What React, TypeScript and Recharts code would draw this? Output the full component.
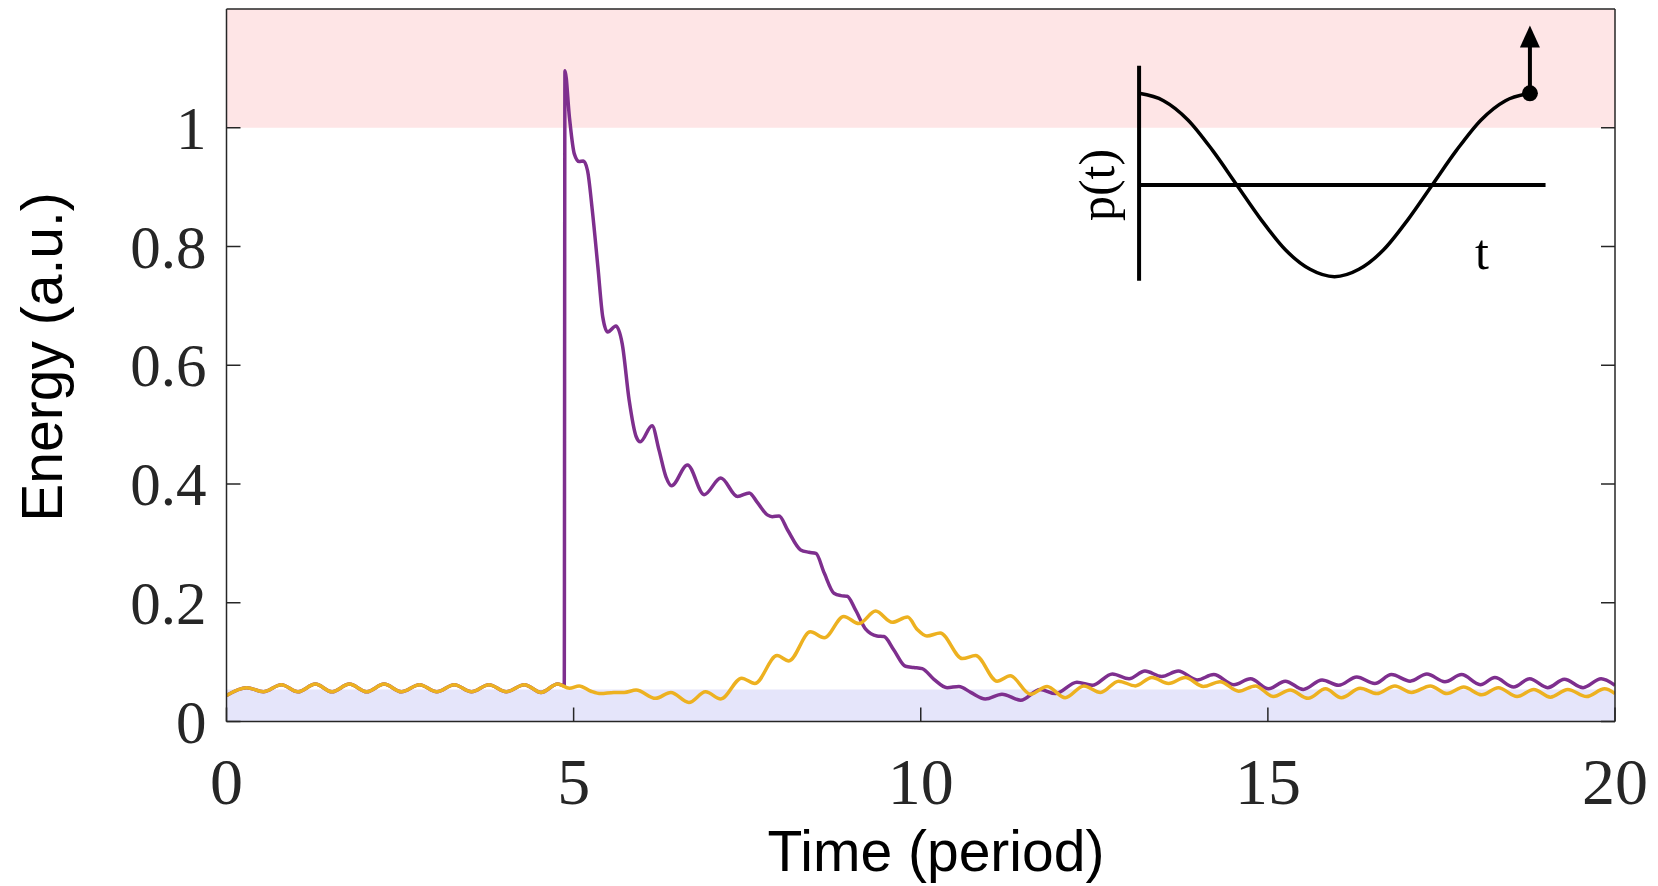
import { LineChart, Line, XAxis, YAxis, ReferenceArea, ReferenceLine, ReferenceDot } from "recharts";

// shared start: both series sit on the same ripple until the kick at t ~ 4.87
const baseT = [0, 0.29, 0.53, 0.79, 1.03, 1.28, 1.52, 1.77, 2.02, 2.27, 2.52, 2.78, 3.03, 3.28, 3.53, 3.78, 4.03, 4.29, 4.53, 4.77];
const baseE = [0.044, 0.057, 0.05, 0.062, 0.05, 0.063, 0.05, 0.063, 0.05, 0.063, 0.05, 0.062, 0.05, 0.062, 0.05, 0.062, 0.05, 0.062, 0.049, 0.063];

const purpleT = [4.865, 4.875, 4.94, 5.01, 5.08, 5.14, 5.2, 5.27, 5.35, 5.42, 5.49, 5.61, 5.7, 5.8, 5.9, 5.96, 6.13, 6.23, 6.33, 6.41, 6.64, 6.88, 7.12, 7.36, 7.53, 7.64, 7.79, 7.86, 7.96, 8.08, 8.27, 8.39, 8.49, 8.61, 8.75, 8.85, 8.94, 9.06, 9.21, 9.37, 9.47, 9.61, 9.78, 9.9, 10.02, 10.19, 10.38, 10.55, 10.72, 10.93, 11.17, 11.44, 11.72, 11.94, 12.25, 12.47, 12.76, 13.0, 13.23, 13.47, 13.71, 13.98, 14.22, 14.51, 14.75, 15.01, 15.25, 15.51, 15.78, 16.02, 16.28, 16.54, 16.78, 17.05, 17.29, 17.55, 17.79, 18.06, 18.27, 18.54, 18.77, 19.03, 19.27, 19.54, 19.8, 20];
const purpleE = [0.06, 1.096, 1.017, 0.956, 0.943, 0.944, 0.928, 0.86, 0.765, 0.681, 0.656, 0.666, 0.636, 0.541, 0.48, 0.471, 0.498, 0.457, 0.412, 0.397, 0.432, 0.382, 0.41, 0.379, 0.385, 0.37, 0.348, 0.345, 0.346, 0.323, 0.289, 0.285, 0.283, 0.25, 0.216, 0.212, 0.211, 0.188, 0.155, 0.144, 0.143, 0.121, 0.093, 0.091, 0.089, 0.071, 0.057, 0.059, 0.049, 0.038, 0.046, 0.036, 0.054, 0.047, 0.066, 0.061, 0.08, 0.072, 0.085, 0.076, 0.085, 0.07, 0.079, 0.062, 0.072, 0.055, 0.068, 0.054, 0.07, 0.061, 0.075, 0.064, 0.079, 0.068, 0.08, 0.067, 0.079, 0.062, 0.074, 0.058, 0.072, 0.057, 0.071, 0.057, 0.072, 0.061];

const orangeT = [4.94, 5.08, 5.25, 5.39, 5.58, 5.73, 5.9, 6.18, 6.4, 6.66, 6.9, 7.12, 7.42, 7.61, 7.93, 8.1, 8.41, 8.61, 8.89, 9.11, 9.35, 9.59, 9.81, 9.95, 10.09, 10.28, 10.6, 10.79, 11.1, 11.29, 11.58, 11.82, 12.08, 12.35, 12.59, 12.85, 13.09, 13.33, 13.57, 13.81, 14.07, 14.31, 14.58, 14.82, 15.08, 15.32, 15.58, 15.83, 16.06, 16.33, 16.57, 16.83, 17.07, 17.34, 17.58, 17.82, 18.08, 18.32, 18.59, 18.83, 19.07, 19.32, 19.59, 19.85, 20];
const orangeE = [0.056, 0.06, 0.051, 0.047, 0.049, 0.049, 0.053, 0.039, 0.049, 0.032, 0.05, 0.038, 0.073, 0.064, 0.111, 0.102, 0.151, 0.141, 0.177, 0.165, 0.186, 0.167, 0.176, 0.155, 0.144, 0.149, 0.106, 0.111, 0.068, 0.077, 0.046, 0.059, 0.04, 0.06, 0.049, 0.068, 0.06, 0.074, 0.064, 0.074, 0.059, 0.067, 0.051, 0.06, 0.042, 0.053, 0.039, 0.055, 0.04, 0.056, 0.047, 0.06, 0.049, 0.06, 0.047, 0.058, 0.045, 0.057, 0.042, 0.054, 0.041, 0.054, 0.042, 0.055, 0.047];

const xTicks = [0, 5, 10, 15, 20];
const yTicks = [0, 0.2, 0.4, 0.6, 0.8, 1];
const escapeBand = [1, 1.2];
const lowBand = [0, 0.054];

// inset sketch: one period of the drive p(t)
const insetPhase = [0, 0.0625, 0.125, 0.1875, 0.25, 0.3125, 0.375, 0.4375, 0.5, 0.5625, 0.625, 0.6875, 0.75, 0.8125, 0.875, 0.9375, 1];
const insetSignal = [1, 0.92, 0.71, 0.38, 0, -0.38, -0.71, -0.92, -1, -0.92, -0.71, -0.38, 0, 0.38, 0.71, 0.92, 1];
const insetVAxis = [-1.044, 1.3];
const insetHAxisEnd = 1.04;
const insetArrowTip = 1.74;

const purpleData = [...baseT, ...purpleT].map((t, i) => ({ t, e: [...baseE, ...purpleE][i] }));
const orangeData = [...baseT, ...orangeT].map((t, i) => ({ t, e: [...baseE, ...orangeE][i] }));
const insetData = insetPhase.map((p, i) => ({ p, s: insetSignal[i] }));

const FRAME = "#262626";
const SERIF = "'Liberation Serif', 'Times New Roman', serif";
const SANS = "'Liberation Sans', Arial, sans-serif";

const XTick = ({ x, y, payload }: any) => (
  <text x={x} y={y + 82} textAnchor="middle" fontFamily={SERIF} fontSize={66} fill={FRAME}>
    {payload.value}
  </text>
);

const YTick = ({ x, y, payload }: any) => (
  <text x={x - 20} y={y + 21} textAnchor="end" fontFamily={SERIF} fontSize={61} fill={FRAME}>
    {payload.value}
  </text>
);

const NoTick = () => <g />;

const Arrow = (props: any) => {
  const { x1, y1, x2, y2 } = props;
  const head = 22;
  const half = 10;
  return (
    <g>
      <line x1={x1} y1={y1} x2={x2} y2={y2 + head - 1} stroke="#000" strokeWidth={4} />
      <polygon points={`${x2},${y2} ${x2 - half},${y2 + head} ${x2 + half},${y2 + head}`} fill="#000" />
    </g>
  );
};

export default function App() {
  return (
    <div style={{ position: "absolute", left: 0, top: 0, width: 1658, height: 886, background: "#fff" }}>
      <LineChart width={1658} height={886} margin={{ top: 8, right: 42, bottom: 64.5, left: 126.5 }}>
        <ReferenceArea y1={escapeBand[0]} y2={escapeBand[1]} fill="rgb(254,229,230)" fillOpacity={1} stroke="none" />
        <ReferenceArea y1={lowBand[0]} y2={lowBand[1]} fill="rgb(229,229,250)" fillOpacity={1} stroke="none" />
        <XAxis
          dataKey="t"
          type="number"
          domain={[0, 20]}
          ticks={xTicks}
          interval={0}
          height={100}
          tickSize={-14}
          tickMargin={14}
          tick={XTick}
          axisLine={{ stroke: FRAME, strokeWidth: 1.5 }}
          tickLine={{ stroke: FRAME, strokeWidth: 1.5 }}
          allowDataOverflow
        />
        <XAxis
          xAxisId="top"
          orientation="top"
          type="number"
          domain={[0, 20]}
          ticks={xTicks}
          interval={0}
          height={1}
          tickSize={-14}
          tick={NoTick}
          axisLine={{ stroke: FRAME, strokeWidth: 1.5 }}
          tickLine={{ stroke: FRAME, strokeWidth: 1.5 }}
          allowDataOverflow
        />
        <YAxis
          type="number"
          domain={[0, 1.2]}
          ticks={yTicks}
          interval={0}
          width={100}
          tickSize={-14}
          tickMargin={14}
          tick={YTick}
          axisLine={{ stroke: FRAME, strokeWidth: 1.5 }}
          tickLine={{ stroke: FRAME, strokeWidth: 1.5 }}
          allowDataOverflow
        />
        <YAxis
          yAxisId="right"
          orientation="right"
          type="number"
          domain={[0, 1.2]}
          ticks={yTicks}
          interval={0}
          width={1}
          tickSize={-14}
          tick={NoTick}
          axisLine={{ stroke: FRAME, strokeWidth: 1.5 }}
          tickLine={{ stroke: FRAME, strokeWidth: 1.5 }}
          allowDataOverflow
        />
        <Line
          data={purpleData}
          dataKey="e"
          type="monotone"
          stroke="#7E2F8E"
          strokeWidth={3.5}
          strokeLinejoin="round"
          dot={false}
          activeDot={false}
          isAnimationActive={false}
        />
        <Line
          data={orangeData}
          dataKey="e"
          type="monotone"
          stroke="#EDB120"
          strokeWidth={3.5}
          strokeLinejoin="round"
          dot={false}
          activeDot={false}
          isAnimationActive={false}
        />
      </LineChart>

      <div style={{ position: "absolute", left: 1100, top: 20, width: 469, height: 275 }}>
        <LineChart width={469} height={275} data={insetData} margin={{ top: 0, right: 0, bottom: 0, left: 0 }}>
          <XAxis dataKey="p" type="number" domain={[-0.1, 1.1]} hide allowDataOverflow />
          <YAxis type="number" domain={[-1.2, 1.8]} hide allowDataOverflow />
          <ReferenceLine
            segment={[{ x: 0, y: insetVAxis[0] }, { x: 0, y: insetVAxis[1] }]}
            stroke="#000"
            strokeWidth={4}
          />
          <ReferenceLine
            segment={[{ x: 0, y: 0 }, { x: insetHAxisEnd, y: 0 }]}
            stroke="#000"
            strokeWidth={4}
          />
          <Line
            dataKey="s"
            type="monotone"
            stroke="#000"
            strokeWidth={3.5}
            dot={false}
            activeDot={false}
            isAnimationActive={false}
          />
          <ReferenceLine
            segment={[{ x: 1, y: 1 }, { x: 1, y: insetArrowTip }]}
            shape={Arrow}
          />
          <ReferenceDot x={1} y={1} r={8} fill="#000" stroke="none" />
        </LineChart>
      </div>

      <svg width={1658} height={886} style={{ position: "absolute", left: 0, top: 0, pointerEvents: "none" }}>
        <text transform="translate(62,357) rotate(-90)" textAnchor="middle" fontFamily={SANS} fontSize={57} fill="#000">
          Energy (a.u.)
        </text>
        <text x={936} y={871} textAnchor="middle" fontFamily={SANS} fontSize={57} fill="#000">
          Time (period)
        </text>
        <text transform="translate(1114,185) rotate(-90)" textAnchor="middle" fontFamily={SERIF} fontSize={50} fill="#000">
          p(t)
        </text>
        <text x={1482} y={269} textAnchor="middle" fontFamily={SERIF} fontSize={50} fill="#000">
          t
        </text>
      </svg>
    </div>
  );
}
